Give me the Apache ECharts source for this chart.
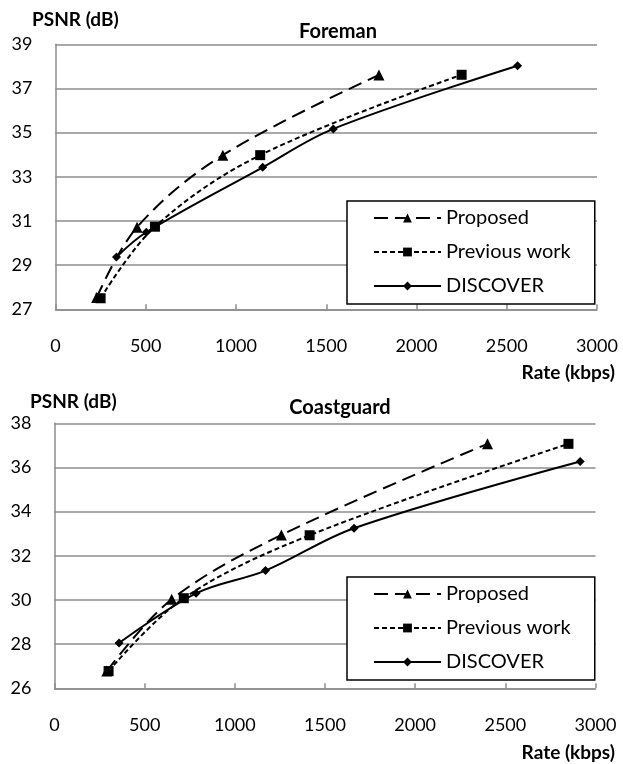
<!DOCTYPE html>
<html>
<head>
<meta charset="utf-8">
<script src="https://cdn.jsdelivr.net/npm/echarts@6/dist/echarts.min.js"></script>
<style>
html, body { margin: 0; padding: 0; background: #fff; }
#chart { width: 623px; height: 764px; }
</style>
</head>
<body>
<div id="chart"></div>
<script>
// ---- Data ----
const seriesNames = ['Proposed', 'Previous work', 'DISCOVER'];
const xTicks = [0, 500, 1000, 1500, 2000, 2500, 3000];
const yTicksForeman = [27, 29, 31, 33, 35, 37, 39];
const yTicksCoastguard = [26, 28, 30, 32, 34, 36, 38];

// Foreman
const foremanProposedRate = [228, 452, 927, 1792];
const foremanProposedPsnr = [27.53, 30.72, 33.98, 37.61];
const foremanPreviousRate = [250, 551, 1134, 2250];
const foremanPreviousPsnr = [27.5, 30.74, 33.98, 37.62];
const foremanDiscoverRate = [338, 503, 1148, 1539, 2560];
const foremanDiscoverPsnr = [29.37, 30.49, 33.43, 35.17, 38.03];

// Coastguard
const coastProposedRate = [290, 650, 1258, 2401];
const coastProposedPsnr = [26.78, 30.03, 32.94, 37.07];
const coastPreviousRate = [300, 717, 1415, 2850];
const coastPreviousPsnr = [26.78, 30.08, 32.93, 37.07];
const coastDiscoverRate = [358, 785, 1170, 1661, 2915];
const coastDiscoverPsnr = [28.05, 30.3, 31.33, 33.25, 36.27];

// ---- Helpers ----
const FONT = 'Lato';
const GRID_COLOR = '#8c8c8c';
function pairs(xs, ys) { return xs.map((x, i) => [x, ys[i]]); }

const styles = {
  'Proposed': { symbol: 'triangle', symbolSize: 11, lineType: [14, 7] },
  'Previous work': { symbol: 'rect', symbolSize: 10, lineType: [5, 3] },
  'DISCOVER': { symbol: 'diamond', symbolSize: 9, lineType: 'solid' }
};

function makeSeries(name, idx, xs, ys) {
  const s = styles[name];
  return {
    name: name,
    type: 'line',
    xAxisIndex: idx,
    yAxisIndex: idx,
    data: pairs(xs, ys),
    smooth: 0.35,
    symbol: s.symbol,
    symbolSize: s.symbolSize,
    showSymbol: true,
    lineStyle: { color: '#000', width: 2, type: s.lineType },
    itemStyle: { color: '#000' },
    emphasis: { disabled: true },
    animation: false
  };
}

function makeXAxis(idx) {
  return {
    type: 'value', gridIndex: idx, min: xTicks[0], max: xTicks[xTicks.length - 1], interval: 500,
    axisLine: { show: true, lineStyle: { color: GRID_COLOR, width: 1.5 } },
    axisTick: { show: true, inside: true, length: 5, lineStyle: { color: GRID_COLOR, width: 1.5 } },
    splitLine: { show: false },
    axisLabel: { fontFamily: FONT, fontSize: 18, color: '#000', margin: 28, lineHeight: 18,
      formatter: function (v) { return String(v); } }
  };
}

function makeYAxis(idx, ticks) {
  return {
    type: 'value', gridIndex: idx, min: ticks[0], max: ticks[ticks.length - 1],
    axisLine: { show: true, lineStyle: { color: GRID_COLOR, width: 1.5 } },
    axisTick: { show: false, customValues: ticks },
    splitLine: { show: true, lineStyle: { color: GRID_COLOR, width: 1.5 } },
    axisLabel: { fontFamily: FONT, fontSize: 18, color: '#000', margin: 23, customValues: ticks }
  };
}

function makeLegend(top) {
  return {
    data: seriesNames,
    orient: 'vertical',
    left: 347,
    top: top,
    itemWidth: 67,
    itemHeight: 11,
    itemGap: 14,
    itemTextGap: 8,
    padding: [7, 24, 8, 26],
    borderColor: '#000',
    borderWidth: 1.5,
    backgroundColor: '#fff',
    selectedMode: false,
    textStyle: { fontFamily: FONT, fontSize: 20, color: '#000', lineHeight: 20 }
  };
}

function text(str, x, y, opts) {
  return {
    type: 'text', x: x, y: y, silent: true,
    style: Object.assign({ text: str, fontFamily: FONT, fill: '#000', textVerticalAlign: 'middle' }, opts)
  };
}

const chart = echarts.init(document.getElementById('chart'), null, { renderer: 'canvas' });
chart.setOption({
  backgroundColor: '#fff',
  animation: false,
  grid: [
    { left: 55.5, top: 44.3, width: 541.5, height: 265 },
    { left: 54.5, top: 423.3, width: 541, height: 265 }
  ],
  xAxis: [makeXAxis(0), makeXAxis(1)],
  yAxis: [makeYAxis(0, yTicksForeman), makeYAxis(1, yTicksCoastguard)],
  legend: [makeLegend(201), makeLegend(577)],
  series: [
    makeSeries('Proposed', 0, foremanProposedRate, foremanProposedPsnr),
    makeSeries('Previous work', 0, foremanPreviousRate, foremanPreviousPsnr),
    makeSeries('DISCOVER', 0, foremanDiscoverRate, foremanDiscoverPsnr),
    makeSeries('Proposed', 1, coastProposedRate, coastProposedPsnr),
    makeSeries('Previous work', 1, coastPreviousRate, coastPreviousPsnr),
    makeSeries('DISCOVER', 1, coastDiscoverRate, coastDiscoverPsnr)
  ],
  graphic: [
    text('PSNR (dB)', 32, 20, { fontSize: 19, fontWeight: 'bold', textAlign: 'left' }),
    text('Foreman', 338, 32, { fontSize: 20, fontWeight: 'bold', textAlign: 'center' }),
    text('Rate (kbps)', 615, 373, { fontSize: 19, fontWeight: 'bold', textAlign: 'right' }),
    text('PSNR (dB)', 30, 402, { fontSize: 19, fontWeight: 'bold', textAlign: 'left' }),
    text('Coastguard', 340, 408, { fontSize: 20, fontWeight: 'bold', textAlign: 'center' }),
    text('Rate (kbps)', 615, 753, { fontSize: 19, fontWeight: 'bold', textAlign: 'right' })
  ]
});
</script>
</body>
</html>
